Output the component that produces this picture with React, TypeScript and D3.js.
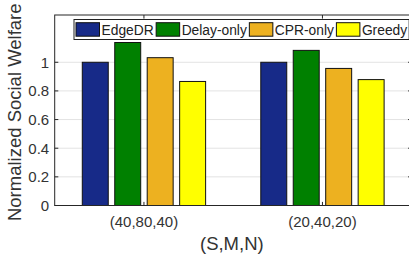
import * as d3 from 'd3';
import { useEffect, useRef } from 'react';

const groups = ['(40,80,40)', '(20,40,20)'];
const seriesNames = ['EdgeDR', 'Delay-only', 'CPR-only', 'Greedy'];
const seriesColors = ['#172a88', '#008000', '#edb120', '#ffff00'];
const edgeDR = [1.0, 1.0];
const delayOnly = [1.138, 1.083];
const cprOnly = [1.032, 0.957];
const greedy = [0.866, 0.879];
const yTicks = [0, 0.2, 0.4, 0.6, 0.8, 1];

export default function App() {
    const svgRef = useRef<SVGSVGElement>(null);

    useEffect(() => {
        if (!svgRef.current) return;

        const width = 409;
        const height = 264;
        const left = 54.7;
        const right = 411.7;
        const top = 15;
        const bottom = 205.5;
        const axisColor = '#262626';
        const tickLen = 3.6;

        const values = [edgeDR, delayOnly, cprOnly, greedy];

        const svg = d3.select(svgRef.current).attr('width', width).attr('height', height);
        svg.selectAll('*').remove();

        const x = d3.scaleLinear().domain([0.5, 2.5]).range([left, right]);
        const unit = x(1) - x(0);
        const y = d3.scaleLinear().domain([0, 1.33]).range([bottom, top]);

        // inner band per group: MATLAB grouped bar geometry
        const half = (4 / 5.5) / 2;
        const inner = d3
            .scaleBand<string>()
            .domain(seriesNames)
            .range([-half * unit, half * unit])
            .paddingInner(0.2)
            .paddingOuter(0.1);

        // grid
        svg.append('g')
            .selectAll('line')
            .data(yTicks.filter((t) => t > 0))
            .join('line')
            .attr('x1', left)
            .attr('x2', right)
            .attr('y1', (d) => y(d))
            .attr('y2', (d) => y(d))
            .attr('stroke', '#e3e3e3')
            .attr('stroke-width', 1);

        // bars
        seriesNames.forEach((name, si) => {
            svg.append('g')
                .selectAll('rect')
                .data(values[si])
                .join('rect')
                .attr('x', (_, gi) => x(gi + 1) + inner(name)!)
                .attr('width', inner.bandwidth())
                .attr('y', (d) => y(d))
                .attr('height', (d) => y(0) - y(d))
                .attr('fill', seriesColors[si])
                .attr('stroke', '#111')
                .attr('stroke-width', 1);
        });

        // box
        svg.append('rect')
            .attr('x', left)
            .attr('y', top)
            .attr('width', right - left)
            .attr('height', bottom - top)
            .attr('fill', 'none')
            .attr('stroke', axisColor)
            .attr('stroke-width', 1);

        // y ticks (left and right, inward)
        const yt = svg.append('g');
        yTicks.forEach((t) => {
            yt.append('line').attr('x1', left).attr('x2', left + tickLen).attr('y1', y(t)).attr('y2', y(t)).attr('stroke', axisColor);
            yt.append('line').attr('x1', right).attr('x2', right - tickLen).attr('y1', y(t)).attr('y2', y(t)).attr('stroke', axisColor);
            yt.append('text')
                .attr('x', left - 5.5)
                .attr('y', y(t))
                .attr('dy', '0.36em')
                .attr('text-anchor', 'end')
                .attr('font-family', 'Liberation Sans, Arial, sans-serif')
                .attr('font-size', 15)
                .attr('fill', '#333')
                .text(d3.format('~g')(t));
        });

        // x ticks (top and bottom, inward)
        const xt = svg.append('g');
        groups.forEach((g, gi) => {
            const cx = x(gi + 1);
            xt.append('line').attr('x1', cx).attr('x2', cx).attr('y1', bottom).attr('y2', bottom - tickLen).attr('stroke', axisColor);
            xt.append('line').attr('x1', cx).attr('x2', cx).attr('y1', top).attr('y2', top + tickLen).attr('stroke', axisColor);
            xt.append('text')
                .attr('x', cx)
                .attr('y', 226.5)
                .attr('text-anchor', 'middle')
                .attr('font-family', 'Liberation Sans, Arial, sans-serif')
                .attr('font-size', 15)
                .attr('fill', '#333')
                .text(g);
        });

        // axis labels
        svg.append('text')
            .attr('x', (left + 409) / 2)
            .attr('y', 249.5)
            .attr('text-anchor', 'middle')
            .attr('font-family', 'Liberation Sans, Arial, sans-serif')
            .attr('font-size', 18.5)
            .attr('fill', '#333')
            .text('(S,M,N)');

        svg.append('text')
            .attr('transform', `translate(20.5,${(top + bottom) / 2 + 2}) rotate(-90)`)
            .attr('text-anchor', 'middle')
            .attr('font-family', 'Liberation Sans, Arial, sans-serif')
            .attr('font-size', 18.5)
            .attr('fill', '#333')
            .text('Normalized Social Welfare');

        // legend
        const lg = svg.append('g');
        const box = lg.append('rect')
            .attr('x', 74)
            .attr('y', 19.5)
            .attr('height', 20)
            .attr('fill', '#fff')
            .attr('stroke', '#222')
            .attr('stroke-width', 1);
        let cursor = 76;
        seriesNames.forEach((name, si) => {
            lg.append('rect')
                .attr('x', cursor)
                .attr('y', 22.7)
                .attr('width', 23.5)
                .attr('height', 13.5)
                .attr('fill', seriesColors[si])
                .attr('stroke', '#111')
                .attr('stroke-width', 1);
            const txt = lg.append('text')
                .attr('x', cursor + 25.5)
                .attr('y', 34.5)
                .attr('font-family', 'Liberation Sans, Arial, sans-serif')
                .attr('font-size', 13.8)
                .attr('fill', '#222')
                .text(name);
            const w = (txt.node() as SVGTextElement).getComputedTextLength();
            cursor = cursor + 25.5 + w + 2.5;
        });
        box.attr('width', cursor - 74 - 0.5);
    }, []);

    return <svg ref={svgRef} style={{ position: 'absolute', left: 0, top: 0 }} />;
}
